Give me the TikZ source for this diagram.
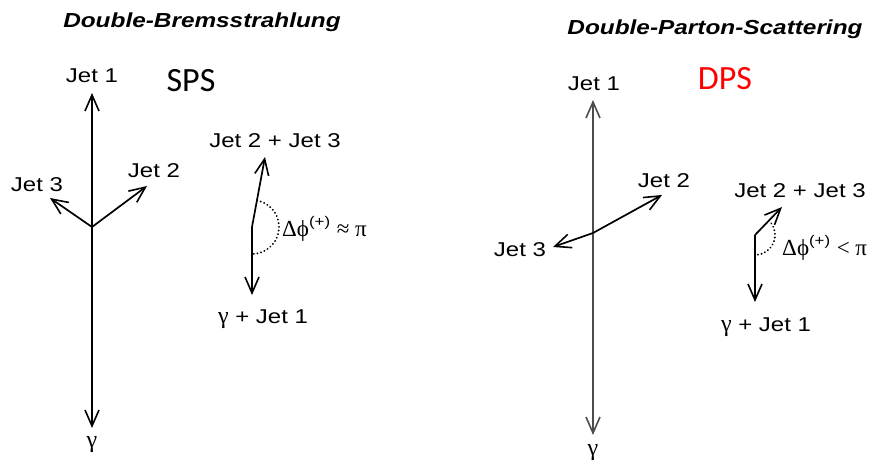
\documentclass[tikz,border=0pt]{standalone}
\usepackage{fontspec}
\usetikzlibrary{arrows.meta}
\newfontfamily\labfont[FakeStretch=1.2]{Liberation Sans}
\newfontfamily\grkfont{Liberation Serif}
\newfontfamily\spsfont{Carlito}
\begin{document}
\begin{tikzpicture}[x=1pt,y=1pt,
  vec/.style={line width=1.7pt, -{Straight Barb[length=16pt,width=14pt,line width=1.6pt]}},
  axisR/.style={vec, draw=black!70},
  lab/.style={font=\fontsize{20}{20}\labfont, anchor=base, inner sep=0pt},
  ttl/.style={font=\fontsize{20.3}{20}\labfont\bfseries\itshape, anchor=base, inner sep=0pt},
  big/.style={font=\fontsize{34}{34}\spsfont, anchor=base, inner sep=0pt},
  arcdot/.style={line width=2pt, line cap=round, dash pattern=on 0.1pt off 3.6pt},
  dlab/.style={anchor=base west, inner sep=0pt}]
\useasboundingbox (0,0) rectangle (875,465);
\newcommand{\gam}{{\fontsize{24}{24}\grkfont γ}}
\newcommand{\dphi}{{\fontsize{23}{23}\grkfont Δϕ}\raisebox{10pt}{\fontsize{14}{14}\labfont (+)}}
% ---------- left: Double-Bremsstrahlung ----------
\node[ttl] (titleL) at (202,437) {Double-Bremsstrahlung};
\node[big] (sps) at (191,373) {SPS};
\coordinate (O1) at (92,238);
\coordinate (J1L) at (92,372);
\coordinate (GL) at (92,37);
\coordinate (J3L) at (50,267);
\coordinate (J2L) at (147,279);
\draw[vec] (O1) -- (J1L);
\draw[vec] (O1) -- (GL);
\draw[vec] (O1) -- (J3L);
\draw[vec] (O1) -- (J2L);
\node[lab] (jet1L) at (92,382) {Jet 1};
\node[lab] (gamL) at (92,17) {\gam};
\node[lab] (jet3L) at (37,273) {Jet 3};
\node[lab] (jet2L) at (154,287) {Jet 2};
% sum diagram
\coordinate (K1) at (252,238);
\coordinate (S1) at (265,308);
\coordinate (P1) at (252,170);
\draw[vec] (K1) -- (S1);
\draw[vec] (K1) -- (P1);
\draw[arcdot] (K1) ++(79:27) arc[start angle=79,end angle=-90,radius=27];
\node[lab] (sumL) at (275,317) {Jet 2 + Jet 3};
\node[lab] (phoL) at (263,141) {\gam\ + Jet 1};
\node[dlab] (dphiL) at (282,228) {\dphi\ \ {\fontsize{23}{23}\grkfont ≈ π}};
% ---------- right: Double-Parton-Scattering ----------
\node[ttl] (titleR) at (715,430) {Double-Parton-Scattering};
\node[big, text=red] (dps) at (725,375) {DPS};
\coordinate (O2) at (593,232);
\coordinate (J1R) at (593,365);
\coordinate (GR) at (593,30);
\coordinate (J2R) at (662,270);
\coordinate (J3R) at (553,218);
\draw[axisR] (O2) -- (J1R);
\draw[axisR] (O2) -- (GR);
\draw[vec] (O2) -- (J2R);
\draw[vec] (O2) -- (J3R);
\node[lab] (jet1R) at (594,374) {Jet 1};
\node[lab] (gamR) at (593,9) {\gam};
\node[lab] (jet2R) at (664,277) {Jet 2};
\node[lab] (jet3R) at (520,208) {Jet 3};
% sum diagram
\coordinate (K2) at (755,230);
\coordinate (S2) at (782,258);
\coordinate (P2) at (755,163);
\draw[vec] (K2) -- (S2);
\draw[vec] (K2) -- (P2);
\draw[arcdot] (K2) ++(46:20) arc[start angle=46,end angle=-90,radius=20];
\node[lab] (sumR) at (800,267) {Jet 2 + Jet 3};
\node[lab] (phoR) at (766,133) {\gam\ + Jet 1};
\node[dlab] (dphiR) at (782,209) {\dphi\ \ {\fontsize{23}{23}\grkfont < π}};
\end{tikzpicture}
\end{document}
